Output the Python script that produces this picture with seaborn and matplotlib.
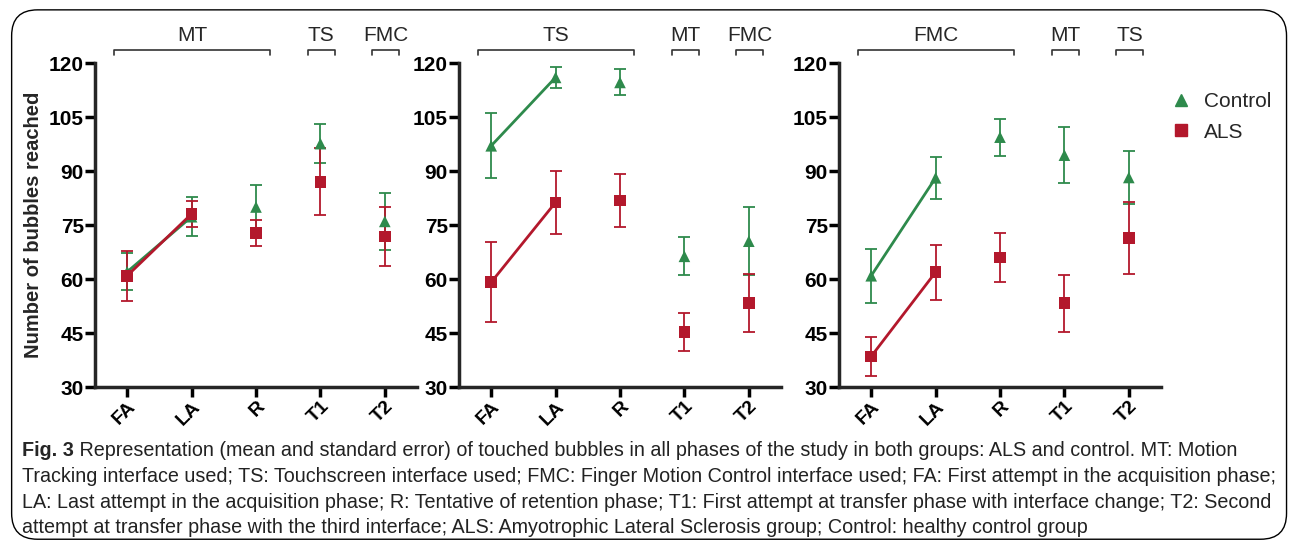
import numpy as np
import pandas as pd
import matplotlib as mpl
import matplotlib.pyplot as plt
import seaborn as sns
from matplotlib.patches import FancyBboxPatch
from matplotlib.lines import Line2D

mpl.use('Agg')

# dane (srednia i blad standardowy)
phases = ['FA', 'LA', 'R', 'T1', 'T2']
groups = ['Control', 'ALS']

# panel 1: start z MT
p1_control_mean = [62.0, 77.3, 80.0, 97.6, 76.0]
p1_control_sem = [5.1, 5.4, 6.2, 5.4, 7.9]
p1_als_mean = [60.9, 78.1, 72.8, 87.0, 71.8]
p1_als_sem = [7.0, 3.6, 3.6, 9.3, 8.3]
p1_labels = ['MT', 'TS', 'FMC']

# panel 2: start z TS
p2_control_mean = [97.0, 116.0, 114.6, 66.3, 70.5]
p2_control_sem = [9.0, 3.0, 3.6, 5.3, 9.5]
p2_als_mean = [59.1, 81.3, 81.8, 45.3, 53.3]
p2_als_sem = [11.1, 8.7, 7.4, 5.2, 8.1]
p2_labels = ['TS', 'MT', 'FMC']

# panel 3: start z FMC
p3_control_mean = [60.9, 88.1, 99.4, 94.4, 88.2]
p3_control_sem = [7.5, 5.9, 5.1, 7.8, 7.4]
p3_als_mean = [38.5, 61.9, 66.0, 53.3, 71.4]
p3_als_sem = [5.4, 7.6, 6.8, 7.9, 10.0]
p3_labels = ['FMC', 'MT', 'TS']

yticks = [30, 45, 60, 75, 90, 105, 120]

caption_lines = [
    'Representation (mean and standard error) of touched bubbles in all phases of the study in both groups: ALS and control. MT: Motion',
    'Tracking interface used; TS: Touchscreen interface used; FMC: Finger Motion Control interface used; FA: First attempt in the acquisition phase;',
    'LA: Last attempt in the acquisition phase; R: Tentative of retention phase; T1: First attempt at transfer phase with interface change; T2: Second',
    'attempt at transfer phase with the third interface; ALS: Amyotrophic Lateral Sclerosis group; Control: healthy control group',
]

green = '#2e8a4c'
red = '#b3182c'
colors = {'Control': green, 'ALS': red}
markers = {'Control': '^', 'ALS': 's'}

sns.set_theme(style='ticks')
plt.rcParams['font.family'] = ['Liberation Sans', 'DejaVu Sans']

panels = [
    (p1_control_mean, p1_control_sem, p1_als_mean, p1_als_sem, p1_labels),
    (p2_control_mean, p2_control_sem, p2_als_mean, p2_als_sem, p2_labels),
    (p3_control_mean, p3_control_sem, p3_als_mean, p3_als_sem, p3_labels),
]

fig = plt.figure(figsize=(12.93, 5.48), dpi=100)

# ramka wokol calej figury
frame = FancyBboxPatch((0.009, 0.016), 0.986, 0.966, boxstyle='round,pad=0,rounding_size=0.02',
                       transform=fig.transFigure, fill=False, edgecolor='black', linewidth=1.0,
                       mutation_aspect=1293 / 548)
fig.patches.append(frame)

lefts = [95 / 1293, 459 / 1293, 839 / 1293]
bottom = 1 - 387 / 548
height = (387 - 63) / 548
width = 322 / 1293

axes = []
for i, (cm, cs, am, as_, labs) in enumerate(panels):
    ax = fig.add_axes([lefts[i], bottom, width, height])
    axes.append(ax)
    df = pd.DataFrame({
        'x': list(range(5)) * 2,
        'phase': phases * 2,
        'mean': cm + am,
        'sem': cs + as_,
        'group': ['Control'] * 5 + ['ALS'] * 5,
    })
    # linie tylko miedzy FA i LA
    acq = df[df['phase'].isin(['FA', 'LA'])]
    sns.lineplot(data=acq, x='x', y='mean', hue='group', palette=colors, linewidth=2.0,
                 legend=False, ax=ax, zorder=2)
    for g in groups:
        sub = df[df['group'] == g]
        ax.errorbar(sub['x'], sub['mean'], yerr=sub['sem'], fmt='none', ecolor=colors[g],
                    elinewidth=1.3, capsize=4.5, capthick=1.3, zorder=3 if g == 'ALS' else 2)
    sns.scatterplot(data=df, x='x', y='mean', hue='group', style='group', palette=colors,
                    markers=markers, s=70, linewidth=0, legend=False, ax=ax, zorder=4)

    ax.set_xlim(-0.5, 4.5)
    ax.set_ylim(30, 120)
    ax.set_yticks(yticks)
    ax.set_yticklabels([str(v) for v in yticks], fontsize=15, fontweight='bold')
    ax.set_xticks(range(5))
    ax.set_xticklabels(phases, rotation=45, ha='right', rotation_mode='anchor',
                       fontsize=14, fontweight='bold')
    ax.set_xlabel('')
    ax.set_ylabel('')
    sns.despine(ax=ax)
    for sp in ['left', 'bottom']:
        ax.spines[sp].set_linewidth(2.5)
    ax.tick_params(axis='both', width=2.5, length=7, pad=1, colors='black')

    # nawiasy z nazwami interfejsow
    spans = [(0, 2), (3, 3), (4, 4)]
    for (a, b), lab in zip(spans, labs):
        x0, x1 = a - 0.2, b + 0.22
        ax.plot([x0, x0, x1, x1], [122.3, 123.6, 123.6, 122.3], color='#333333',
                linewidth=1.2, clip_on=False)
        ax.text((x0 + x1) / 2, 125.0, lab, ha='center', va='bottom', fontsize=15)

axes[0].set_ylabel('Number of bubbles reached', fontsize=14.5, fontweight='bold', labelpad=4)

handles = [Line2D([], [], linestyle='none', marker=markers[g], color=colors[g], markersize=8)
           for g in groups]
axes[2].legend(handles, groups, loc='upper left', bbox_to_anchor=(0.985, 0.955), frameon=False,
               fontsize=15, handletextpad=0.6, labelspacing=0.55, handlelength=1.0,
               borderaxespad=0.3)

# podpis pod rysunkiem - rozmiar dobrany tak, zeby pierwsza linia konczyla sie ok. x=1240
fig.canvas.draw()
cap_size = 14
t = fig.text(22 / 1293, 0.5, 'Fig. 3', fontsize=cap_size, fontweight='bold', va='center')
probe = fig.text(0, 0.5, ' ' + caption_lines[0], fontsize=cap_size, va='center')
w_total = t.get_window_extent().width + probe.get_window_extent().width
scale = (1240 - 22) / w_total
probe.remove()
cap_size = cap_size * scale
t.set_fontsize(cap_size)

y0 = 1 - 451 / 548
for k, line in enumerate(caption_lines):
    y = y0 - k * 25.5 / 548
    if k == 0:
        t.set_y(y)
        bb = t.get_window_extent()
        fig.text(bb.x1 / 1293, y, ' ' + line, fontsize=cap_size, va='center', ha='left',
                 color='#222222')
    else:
        fig.text(22 / 1293, y, line, fontsize=cap_size, va='center', ha='left', color='#222222')

plt.savefig('out.png', dpi=100)
